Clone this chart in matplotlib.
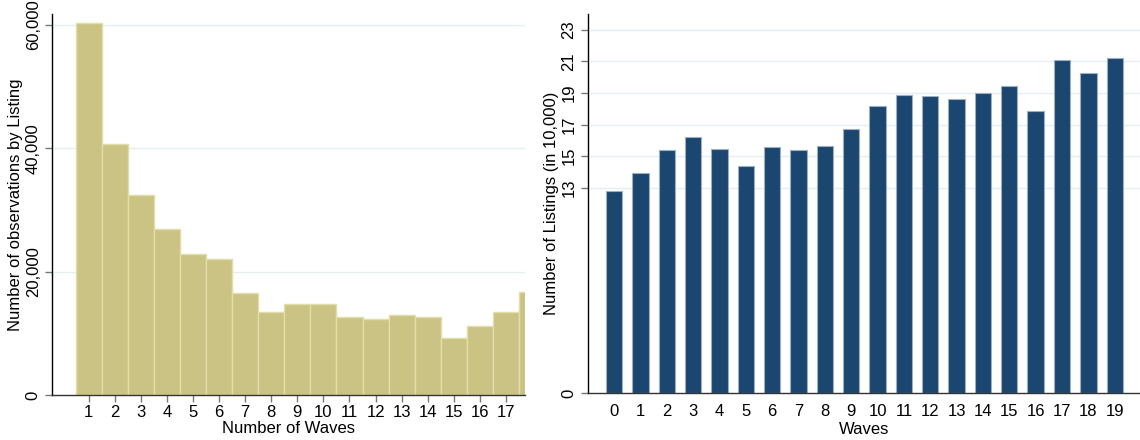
import numpy as np
import matplotlib
matplotlib.use('Agg')
import matplotlib.pyplot as plt

plt.rcParams['font.family'] = ['Liberation Sans', 'DejaVu Sans']

# Histograma: número de ondas por anúncio
waves_hist = list(range(1, 19))
obs_hist = [60300, 40700, 32500, 26900, 22800, 22000, 16500, 13400, 14800,
            14700, 12700, 12300, 12900, 12700, 9300, 11200, 13400, 16700]
yticks_hist = [0, 20000, 40000, 60000]

# Número de anúncios por onda (em 10.000)
waves = list(range(0, 20))
listings = [12.82, 13.92, 15.37, 16.21, 15.45, 14.36, 15.56, 15.41, 15.67, 16.72,
            18.15, 18.87, 18.79, 18.62, 19.02, 19.42, 17.84, 21.06, 20.24, 21.23]
yticks_list = [0, 13, 15, 17, 19, 21, 23]

grid_color = '#e6eff0'
tick_color = '#777777'

fig = plt.figure(figsize=(11.4, 4.4), dpi=100)

# --- painel esquerdo ---
ax1 = fig.add_axes([0.0456, 0.1023, 0.4149, 0.8659])
ax1.bar(waves_hist, obs_hist, width=1.0, color='#cbc384', edgecolor='#e2dea9',
        linewidth=1.0, zorder=2)
ax1.set_xlim(-0.41, 17.73)
ax1.set_ylim(0, 61800)
ax1.set_xticks(waves_hist[:-1])
ax1.set_xticklabels([str(w) for w in waves_hist[:-1]])
ax1.set_yticks(yticks_hist)
ax1.set_yticklabels([f"{v:,}" for v in yticks_hist], rotation=90, va='center')
for y in yticks_hist[1:]:
    ax1.axhline(y, color=grid_color, linewidth=1.0, zorder=1)
ax1.set_xlabel('Number of Waves', fontsize=12, labelpad=1)
ax1.set_ylabel('Number of observations by Listing', fontsize=12, labelpad=2)

# --- painel direito ---
ax2 = fig.add_axes([0.5155, 0.1061, 0.4845, 0.8621])
ax2.bar(waves, listings, width=0.62, color='#1b4670', edgecolor='#9db0c2',
        linewidth=0.8, zorder=2)
ax2.set_xlim(-1.0, 19.96)
ax2.set_ylim(0, 24.0)
ax2.set_xticks(waves)
ax2.set_xticklabels([str(w) for w in waves])
ax2.set_yticks(yticks_list)
ax2.set_yticklabels([str(v) for v in yticks_list], rotation=90, va='center')
for y in yticks_list[1:]:
    ax2.axhline(y, color=grid_color, linewidth=1.0, zorder=1)
ax2.set_xlabel('Waves', fontsize=12, labelpad=2)
ax2.set_ylabel('Number of Listings (in 10,000)', fontsize=12, labelpad=2)
ax2.tick_params(axis='x', length=0, pad=8)

for ax in (ax1, ax2):
    ax.spines['top'].set_visible(False)
    ax.spines['right'].set_visible(False)
    ax.spines['left'].set_linewidth(1.0)
    ax.spines['bottom'].set_linewidth(1.0)
    ax.spines['bottom'].set_color('#333333')
    ax.tick_params(labelsize=12, colors=tick_color, labelcolor='black', width=1.0)
    ax.tick_params(axis='y', length=5, pad=3)
ax1.tick_params(axis='x', length=5, pad=2)

fig.savefig('out.png', dpi=100)
